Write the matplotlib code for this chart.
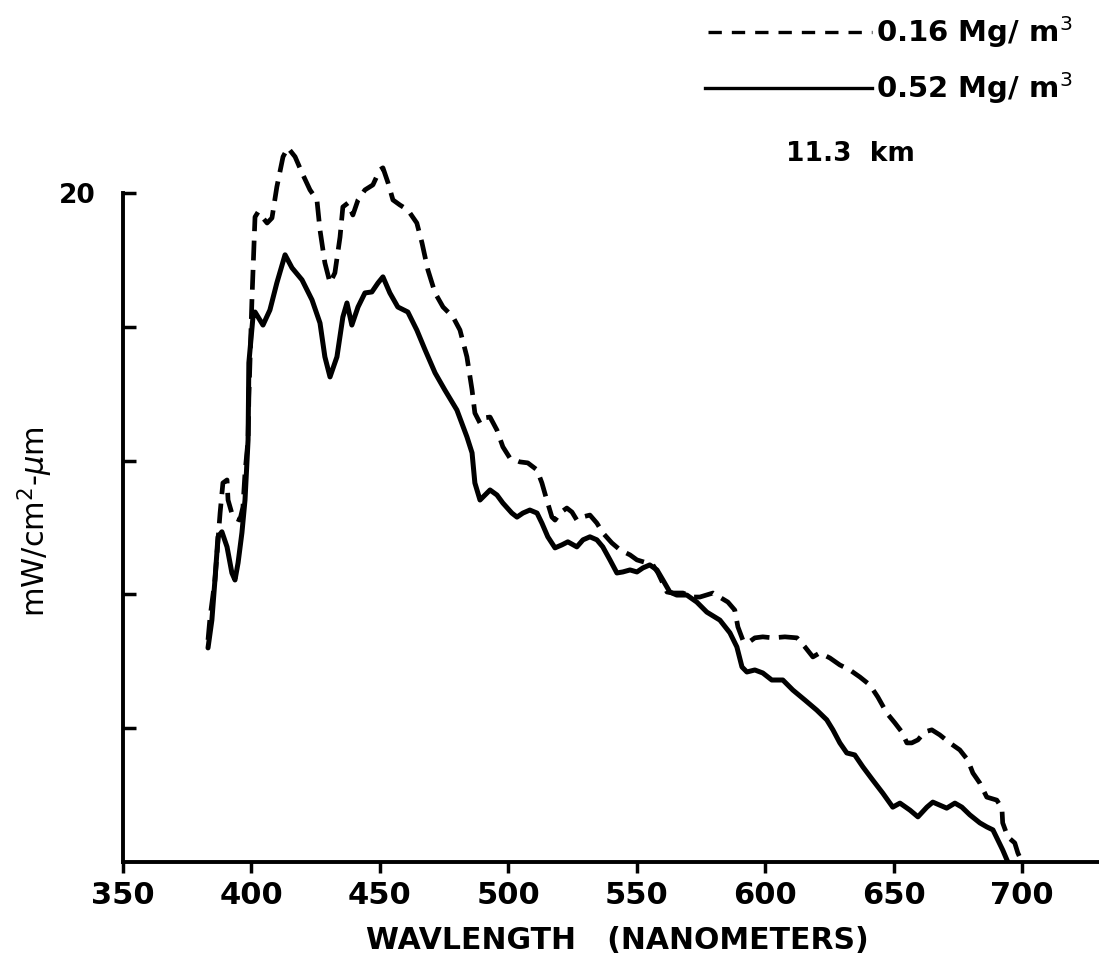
import matplotlib
matplotlib.use("Agg")
import matplotlib.pyplot as plt
from matplotlib.lines import Line2D

# ---- data ----
wl_016 = [383.1, 383.9, 385.8, 387.8, 388.9, 390.5, 390.9, 392.8, 395.5, 396.7, 397.5, 398.7,
          399.0, 400.2, 401.4, 402.6, 406.1, 408.0, 409.9, 412.3, 414.2, 417.0, 419.7, 422.8,
          425.5, 426.7, 428.6, 430.6, 432.5, 434.5, 435.6, 437.6, 439.5, 441.5, 444.2, 447.3,
          450.0, 451.2, 453.2, 455.1, 457.8, 460.9, 464.4, 466.4, 468.7, 471.5, 474.6, 478.5,
          481.2, 483.9, 485.9, 487.0, 489.0, 490.1, 492.9, 495.6, 497.9, 500.6, 504.5, 507.6,
          511.2, 513.1, 515.0, 517.0, 518.2, 520.1, 522.8, 524.8, 526.7, 528.7, 531.8, 534.5,
          536.8, 540.3, 543.5, 547.4, 550.1, 554.0, 556.3, 558.3, 561.8, 564.1, 568.0, 571.9,
          574.6, 579.7, 585.5, 588.2, 589.4, 591.3, 593.3, 596.0, 599.1, 603.0, 607.7, 612.4,
          615.5, 618.6, 621.3, 625.2, 629.1, 633.0, 636.9, 640.8, 643.9, 647.4, 650.5, 653.2,
          655.2, 657.1, 659.5, 662.2, 664.9, 668.0, 671.9, 675.8, 678.9, 680.9, 683.6, 686.3,
          690.2, 692.2, 692.5, 694.5, 697.2, 698.4, 700.0]
irr_016 = [6.64, 7.32, 8.43, 10.43, 11.33, 11.42, 10.82, 10.31, 10.22, 10.61, 11.63, 12.62,
           13.90, 16.80, 19.28, 19.43, 19.10, 19.25, 20.18, 21.08, 21.35, 21.08, 20.60, 20.09,
           19.79, 18.89, 17.91, 17.31, 17.61, 18.68, 19.58, 19.70, 19.34, 19.79, 20.09, 20.24,
           20.69, 20.75, 20.30, 19.79, 19.64, 19.49, 19.10, 18.51, 17.70, 17.01, 16.59, 16.29,
           15.90, 15.10, 14.11, 13.42, 13.12, 13.27, 13.30, 12.91, 12.41, 12.08, 11.96, 11.93,
           11.72, 11.33, 10.82, 10.31, 10.22, 10.43, 10.58, 10.46, 10.22, 10.31, 10.37, 10.13,
           9.84, 9.54, 9.33, 9.18, 9.03, 8.94, 8.88, 8.64, 8.07, 8.04, 8.04, 7.92,
           7.92, 8.04, 7.77, 7.53, 7.03, 6.64, 6.55, 6.70, 6.73, 6.70, 6.73, 6.70,
           6.43, 6.13, 6.25, 6.10, 5.89, 5.74, 5.53, 5.29, 4.93, 4.45, 4.16, 3.89,
           3.56, 3.56, 3.65, 3.89, 3.95, 3.80, 3.56, 3.35, 3.05, 2.66, 2.36, 1.94,
           1.85, 1.61, 1.17, 0.75, 0.57, 0.27, 0.0]

wl_052 = [383.1, 384.6, 385.8, 387.0, 388.5, 390.5, 392.4, 393.6, 394.8, 396.3, 397.5, 398.7,
          399.0, 400.6, 401.4, 404.5, 407.2, 409.9, 413.1, 415.8, 419.7, 423.6, 426.7, 428.6,
          430.6, 433.3, 435.6, 437.2, 439.1, 441.5, 444.2, 446.9, 449.3, 451.2, 453.9, 457.0,
          460.9, 464.4, 467.6, 471.5, 475.3, 480.0, 483.9, 485.9, 487.0, 489.0, 492.9, 495.6,
          497.9, 501.4, 503.4, 505.7, 508.4, 511.2, 513.1, 515.4, 518.2, 520.9, 523.2, 526.7,
          529.1, 531.8, 534.5, 536.8, 539.6, 542.3, 544.6, 547.4, 550.1, 552.4, 555.1, 557.9,
          560.2, 562.9, 565.6, 569.5, 573.4, 577.3, 582.4, 586.3, 589.0, 591.0, 592.9, 596.0,
          599.1, 602.6, 606.9, 610.8, 615.5, 620.1, 624.0, 626.4, 629.1, 631.8, 634.9, 638.1,
          641.9, 645.8, 649.7, 652.5, 656.4, 659.5, 663.0, 665.3, 668.0, 670.7, 673.9, 676.6,
          679.7, 683.6, 686.3, 688.7, 690.6, 692.5, 694.5]
irr_052 = [6.40, 7.23, 8.43, 9.72, 9.87, 9.42, 8.64, 8.43, 8.94, 9.84, 10.82, 12.62,
           14.92, 16.29, 16.44, 16.05, 16.50, 17.31, 18.15, 17.76, 17.40, 16.80, 16.11, 15.10,
           14.50, 15.10, 16.29, 16.71, 16.05, 16.59, 17.01, 17.04, 17.31, 17.49, 17.01, 16.59,
           16.44, 15.90, 15.31, 14.62, 14.11, 13.51, 12.71, 12.23, 11.33, 10.82, 11.12, 10.97,
           10.73, 10.43, 10.31, 10.43, 10.52, 10.43, 10.13, 9.72, 9.39, 9.48, 9.57, 9.42,
           9.63, 9.72, 9.63, 9.42, 9.03, 8.64, 8.67, 8.73, 8.67, 8.79, 8.88, 8.73,
           8.43, 8.07, 7.98, 7.98, 7.77, 7.47, 7.23, 6.85, 6.43, 5.83, 5.68, 5.74,
           5.65, 5.44, 5.44, 5.14, 4.84, 4.54, 4.25, 3.95, 3.56, 3.26, 3.20, 2.84,
           2.45, 2.06, 1.64, 1.76, 1.55, 1.35, 1.64, 1.79, 1.70, 1.61, 1.76, 1.64,
           1.41, 1.17, 1.05, 0.96, 0.66, 0.36, 0.0]

xticks = [350, 400, 450, 500, 550, 600, 650, 700]
yticks = [4, 8, 12, 16, 20]
ytick_labels = ["", "", "", "", "20"]
legend_labels = ["0.16 Mg/ m$^3$", "0.52 Mg/ m$^3$"]
note = "11.3  km"
xlabel = "WAVLENGTH   (NANOMETERS)"
ylabel = "mW/cm$^2$-$\\mu$m"

W, H = 1099, 955
fig = plt.figure(figsize=(W / 100, H / 100), dpi=100)
ax = fig.add_axes([123 / W, (H - 862) / H, (1099 - 123) / W, (862 - 126) / H])

ax.plot(wl_016, irr_016, color="black", lw=3.4, linestyle=(0, (4.2, 2.0)),
        solid_capstyle="round")
ax.plot(wl_052, irr_052, color="black", lw=3.6, solid_joinstyle="round",
        solid_capstyle="round")

ax.set_xlim(350, 730)
ax.set_ylim(0, 22)

for s in ("top", "right"):
    ax.spines[s].set_visible(False)
ax.spines["left"].set_bounds(0, 20)
ax.spines["left"].set_linewidth(2.8)
ax.spines["bottom"].set_linewidth(2.8)

ax.set_xticks(xticks)
ax.set_xticklabels([str(v) for v in xticks], fontsize=22, fontweight="bold")
ax.tick_params(axis="x", direction="out", length=8, width=2.5, pad=6)
ax.set_yticks(yticks)
ax.set_yticklabels(ytick_labels, fontsize=19, fontweight="bold")
ax.tick_params(axis="y", direction="in", length=9, width=2.5, pad=20)

fig.text(617 / W, 1 - 949 / H, xlabel, ha="center", va="baseline",
         fontsize=21.5, fontweight="bold")
fig.text(35 / W, 1 - 522 / H, ylabel, ha="center", va="center",
         rotation=90, fontsize=22)

# legend drawn as figure-level lines and texts
fig.add_artist(Line2D([708 / W, 872 / W], [1 - 32 / H, 1 - 32 / H],
                      transform=fig.transFigure, color="black", lw=2.4,
                      linestyle=(0, (4, 3))))
fig.add_artist(Line2D([705 / W, 872 / W], [1 - 88 / H, 1 - 88 / H],
                      transform=fig.transFigure, color="black", lw=2.4))
fig.text(876 / W, 1 - 32 / H, legend_labels[0], ha="left", va="center",
         fontsize=21, fontweight="bold")
fig.text(876 / W, 1 - 88 / H, legend_labels[1], ha="left", va="center",
         fontsize=21, fontweight="bold")
fig.text(850 / W, 1 - 154 / H, note, ha="center", va="center",
         fontsize=19, fontweight="bold")

fig.savefig("out.png", dpi=100)
